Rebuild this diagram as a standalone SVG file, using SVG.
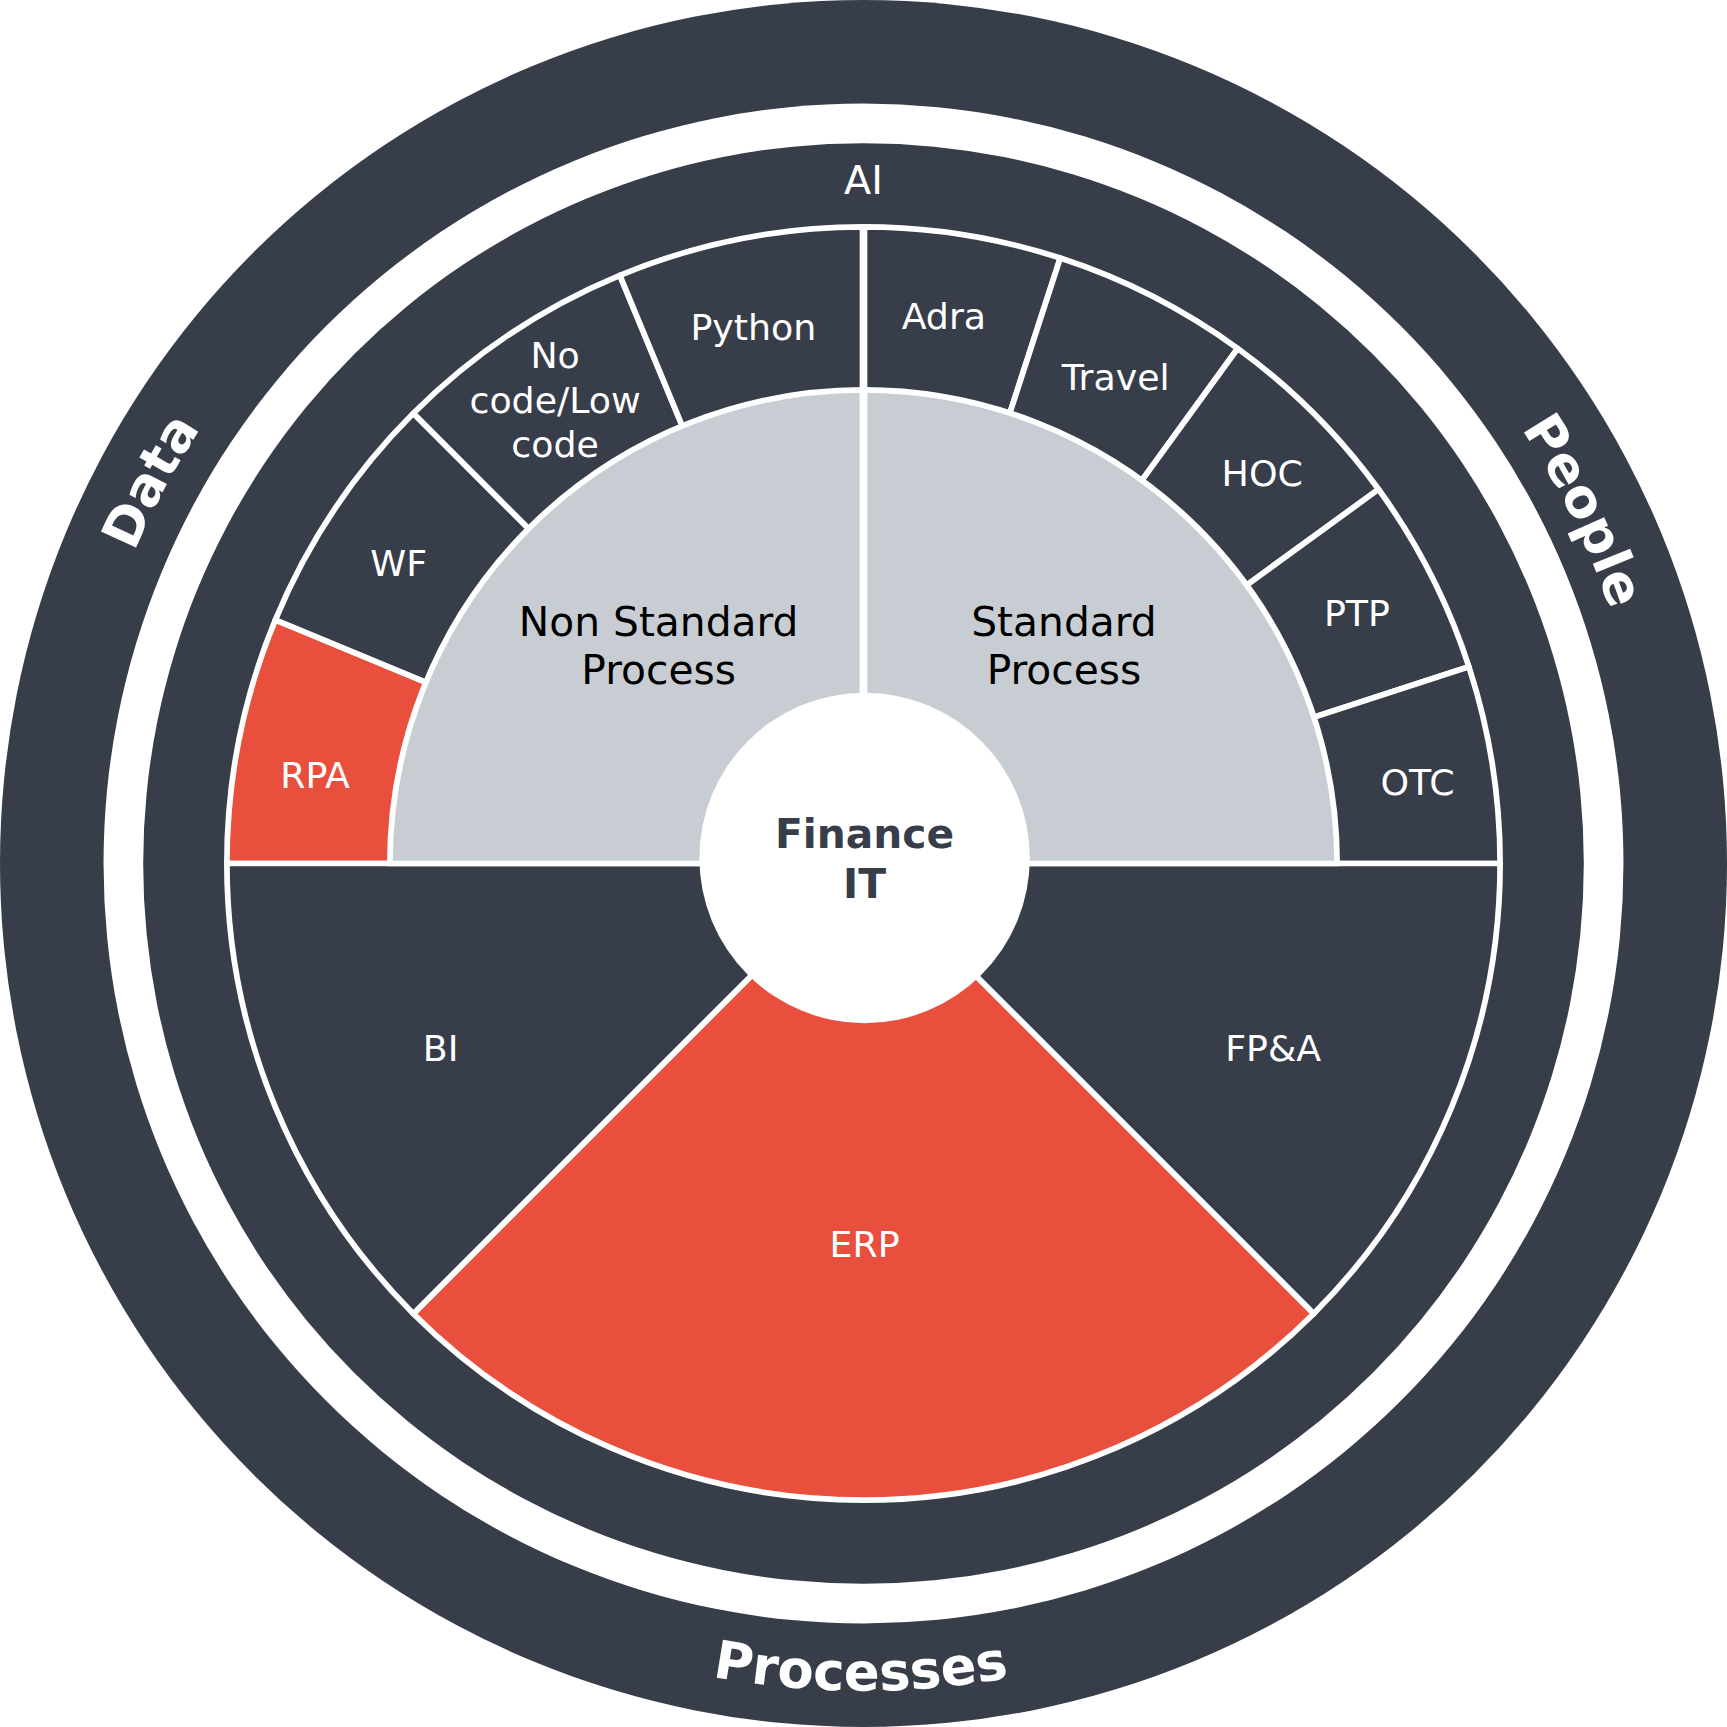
<svg xmlns="http://www.w3.org/2000/svg" xmlns:xlink="http://www.w3.org/1999/xlink" width="1727" height="1727" viewBox="0 0 1727 1727">
<style>
.dk{fill:#373d49;stroke:#fff;stroke-width:5.2;stroke-linejoin:round}
.rd{fill:#e94f3d;stroke:#fff;stroke-width:5.2;stroke-linejoin:round}
.gy{fill:#c8cdd3;stroke:#fff;stroke-width:5.2;stroke-linejoin:round}
.lb{font-family:"DejaVu Sans","Liberation Sans",sans-serif;font-size:33px;fill:#fff;text-anchor:middle}
.lg{font-family:"DejaVu Sans","Liberation Sans",sans-serif;font-size:37px;fill:#000;text-anchor:middle}
.ct{font-family:"DejaVu Sans","Liberation Sans",sans-serif;font-size:37px;font-weight:bold;fill:#373d49;text-anchor:middle}
.rg{font-family:"DejaVu Sans","Liberation Sans",sans-serif;font-size:48px;font-weight:bold;fill:#fff;text-anchor:middle}
</style>
<defs>
<path id="pData" d="M64.35 806.62 A720 720 0 0 1 404.59 172.08"/>
<path id="pPeople" d="M1183.29 189.68 A716 716 0 0 1 1498.34 832.70"/>
<path id="pProc" d="M406.23 1433.06 A751 751 0 0 0 1157.23 1435.70"/>
</defs>
<g transform="scale(1.10140)">
<g id="rings">
<circle cx="784" cy="784" r="784" fill="#373d49"/>
<circle cx="784" cy="784" r="690" fill="#fff"/>
<circle cx="784" cy="784" r="654" fill="#373d49"/>
</g>
<g id="ring-labels">
<text class="rg"><textPath href="#pData" xlink:href="#pData" startOffset="50%">Data</textPath></text>
<text class="rg"><textPath href="#pPeople" xlink:href="#pPeople" startOffset="50%">People</textPath></text>
<text class="rg"><textPath href="#pProc" xlink:href="#pProc" startOffset="50%">Processes</textPath></text>
</g>
<g id="ai"><text class="lb" x="784" y="176" style="font-size:36px">AI</text></g>
<g id="rpa"><path class="rd" d="M784 784 L206 784 A578 578 0 0 1 250 562.81 Z"/><text class="lb" x="286" y="715">RPA</text></g>
<g id="wf"><path class="dk" d="M784 784 L250 562.81 A578 578 0 0 1 375.29 375.29 Z"/><text class="lb" x="362" y="523">WF</text></g>
<g id="nocode"><path class="dk" d="M784 784 L375.29 375.29 A578 578 0 0 1 562.81 250 Z"/><text class="lb" x="504" y="334">No</text><text class="lb" x="504" y="375">code/Low</text><text class="lb" x="504" y="415">code</text></g>
<g id="python"><path class="dk" d="M784 784 L562.81 250 A578 578 0 0 1 784 206 Z"/><text class="lb" x="684" y="309">Python</text></g>
<g id="adra"><path class="dk" d="M784 784 L784 206 A578 578 0 0 1 962.61 234.29 Z"/><text class="lb" x="857" y="299">Adra</text></g>
<g id="travel"><path class="dk" d="M784 784 L962.61 234.29 A578 578 0 0 1 1123.74 316.39 Z"/><text class="lb" x="1013" y="354">Travel</text></g>
<g id="hoc"><path class="dk" d="M784 784 L1123.74 316.39 A578 578 0 0 1 1251.61 444.26 Z"/><text class="lb" x="1146" y="441">HOC</text></g>
<g id="ptp"><path class="dk" d="M784 784 L1251.61 444.26 A578 578 0 0 1 1333.71 605.39 Z"/><text class="lb" x="1232" y="568">PTP</text></g>
<g id="otc"><path class="dk" d="M784 784 L1333.71 605.39 A578 578 0 0 1 1362 784 Z"/><text class="lb" x="1287" y="722">OTC</text></g>
<g id="fpa"><path class="dk" d="M784 784 L1362 784 A578 578 0 0 1 1192.71 1192.71 Z"/><text class="lb" x="1156" y="963">FP&amp;A</text></g>
<g id="erp"><path class="rd" d="M784 784 L1192.71 1192.71 A578 578 0 0 1 375.29 1192.71 Z"/><text class="lb" x="785" y="1141">ERP</text></g>
<g id="bi"><path class="dk" d="M784 784 L375.29 1192.71 A578 578 0 0 1 206 784 Z"/><text class="lb" x="400" y="963">BI</text></g>
<g id="nonstandard"><path class="gy" d="M784 784 L354 784 A430 430 0 0 1 784 354 Z"/><text class="lg" x="598" y="577">Non Standard</text><text class="lg" x="598" y="621">Process</text></g>
<g id="standard"><path class="gy" d="M784 784 L784 354 A430 430 0 0 1 1214 784 Z"/><text class="lg" x="966" y="577">Standard</text><text class="lg" x="966" y="621">Process</text></g>
<g id="connectors"><line x1="784" y1="204" x2="784" y2="640" stroke="#fff" stroke-width="7"/></g>
<g id="finance"><circle cx="785" cy="779" r="150" fill="#fff"/><text class="ct" x="785" y="770">Finance</text><text class="ct" x="785" y="815">IT</text></g>
</g>
</svg>
